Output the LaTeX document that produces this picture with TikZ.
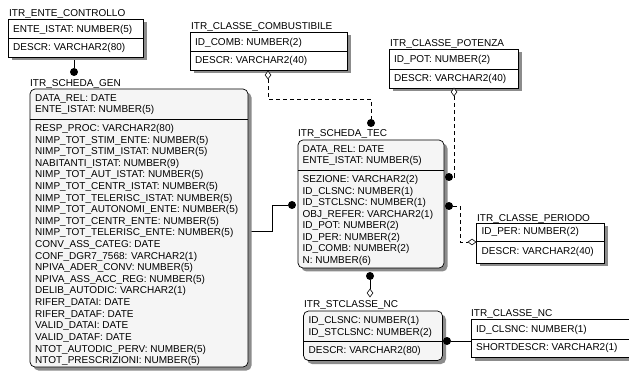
\documentclass[tikz,border=0pt]{standalone}
\usepackage{fontspec}
\setmainfont{Liberation Sans}
\usetikzlibrary{shapes.geometric, shadows, backgrounds, positioning, calc}

\begin{document}
\begin{tikzpicture}[x=1pt, y=-1pt,
  entity/.style={draw, line width=0.7pt, fill=white, inner sep=0pt, outer sep=0pt, anchor=north west,
    drop shadow={shadow xshift=3.5pt, shadow yshift=-3.5pt, fill=black!45, opacity=1}},
  depent/.style={entity, rounded corners=5pt, fill=black!4},
  attr/.style={anchor=base west, inner sep=0pt, font=\fontsize{10}{12}\selectfont},
  dot/.style={circle, fill=black, inner sep=0pt, minimum size=8pt},
  nonid/.style={diamond, draw, fill=white, line width=0.6pt, inner sep=0pt, minimum width=6pt, minimum height=8pt},
  rel/.style={line width=0.7pt},
  nonidrel/.style={rel, dash pattern=on 4pt off 3pt}]
\useasboundingbox (0,0) rectangle (629,371);

% ITR_ENTE_CONTROLLO
\node[entity, minimum width=135pt, minimum height=38pt] (ctrl) at (8,19) {};
\draw[rel] (ctrl.west |- 0,38) -- (ctrl.east |- 0,38);
\node[attr] (ctrl-t) at (9,17) {ITR\_ENTE\_CONTROLLO};
\node[attr] (ctrl-k) at (13,33) {ENTE\_ISTAT: NUMBER(5)};
\node[attr] (ctrl-a) at (13,50.5) {DESCR: VARCHAR2(80)};

% ITR_CLASSE_COMBUSTIBILE
\node[entity, minimum width=157pt, minimum height=38pt] (comb) at (190,32) {};
\draw[rel] (comb.west |- 0,51) -- (comb.east |- 0,51);
\node[attr] (comb-t) at (191,29.5) {ITR\_CLASSE\_COMBUSTIBILE};
\node[attr] (comb-k) at (195,45.5) {ID\_COMB: NUMBER(2)};
\node[attr] (comb-a) at (195,63.5) {DESCR: VARCHAR2(40)};

% ITR_CLASSE_POTENZA
\node[entity, minimum width=129pt, minimum height=39pt] (pot) at (389,49) {};
\draw[rel] (pot.west |- 0,69) -- (pot.east |- 0,69);
\node[attr] (pot-t) at (390,47) {ITR\_CLASSE\_POTENZA};
\node[attr] (pot-k) at (394,63) {ID\_POT: NUMBER(2)};
\node[attr] (pot-a) at (394,82) {DESCR: VARCHAR2(40)};

% ITR_SCHEDA_GEN
\node[depent, minimum width=218pt, minimum height=278pt] (gen) at (30,89) {};
\draw[rel] (gen.west |- 0,119) -- (gen.east |- 0,119);
\node[attr] (gen-t) at (30,86.5) {ITR\_SCHEDA\_GEN};
\node[attr] (gen-k1) at (35,101.5) {DATA\_REL: DATE};
\node[attr] (gen-k2) at (35,113) {ENTE\_ISTAT: NUMBER(5)};
\foreach \t [count=\i] in {RESP\_PROC: VARCHAR2(80), NIMP\_TOT\_STIM\_ENTE: NUMBER(5),
    NIMP\_TOT\_STIM\_ISTAT: NUMBER(5), NABITANTI\_ISTAT: NUMBER(9),
    NIMP\_TOT\_AUT\_ISTAT: NUMBER(5), NIMP\_TOT\_CENTR\_ISTAT: NUMBER(5),
    NIMP\_TOT\_TELERISC\_ISTAT: NUMBER(5), NIMP\_TOT\_AUTONOMI\_ENTE: NUMBER(5),
    NIMP\_TOT\_CENTR\_ENTE: NUMBER(5), NIMP\_TOT\_TELERISC\_ENTE: NUMBER(5),
    CONV\_ASS\_CATEG: DATE, CONF\_DGR7\_7568: VARCHAR2(1),
    NPIVA\_ADER\_CONV: NUMBER(5), NPIVA\_ASS\_ACC\_REG: NUMBER(5),
    DELIB\_AUTODIC: VARCHAR2(1), RIFER\_DATAI: DATE, RIFER\_DATAF: DATE,
    VALID\_DATAI: DATE, VALID\_DATAF: DATE,
    NTOT\_AUTODIC\_PERV: NUMBER(5), NTOT\_PRESCRIZIONI: NUMBER(5)}
  \node[attr] (gen-a\i) at (35, 120+11.6*\i) {\t};

% ITR_SCHEDA_TEC
\node[depent, minimum width=146pt, minimum height=128pt] (tec) at (298,140) {};
\draw[rel] (tec.west |- 0,170) -- (tec.east |- 0,170);
\node[attr] (tec-t) at (298,137) {ITR\_SCHEDA\_TEC};
\node[attr] (tec-k1) at (302.5,152.5) {DATA\_REL: DATE};
\node[attr] (tec-k2) at (302.5,164) {ENTE\_ISTAT: NUMBER(5)};
\foreach \t [count=\i] in {SEZIONE: VARCHAR2(2), ID\_CLSNC: NUMBER(1),
    ID\_STCLSNC: NUMBER(1), OBJ\_REFER: VARCHAR2(1), ID\_POT: NUMBER(2),
    ID\_PER: NUMBER(2), ID\_COMB: NUMBER(2), N: NUMBER(6)}
  \node[attr] (tec-a\i) at (302.5, 171.5+11.5*\i) {\t};

% ITR_CLASSE_PERIODO
\node[entity, minimum width=128pt, minimum height=40pt] (per) at (476,223) {};
\draw[rel] (per.west |- 0,241) -- (per.east |- 0,241);
\node[attr] (per-t) at (477,221.5) {ITR\_CLASSE\_PERIODO};
\node[attr] (per-k) at (481.5,235) {ID\_PER: NUMBER(2)};
\node[attr] (per-a) at (481.5,254.5) {DESCR: VARCHAR2(40)};

% ITR_STCLASSE_NC
\node[depent, minimum width=139pt, minimum height=49.5pt] (stcl) at (303.5,311) {};
\draw[rel] (stcl.west |- 0,341) -- (stcl.east |- 0,341);
\node[attr] (stcl-t) at (304,307.5) {ITR\_STCLASSE\_NC};
\node[attr] (stcl-k1) at (308.5,323.5) {ID\_CLSNC: NUMBER(1)};
\node[attr] (stcl-k2) at (308.5,335) {ID\_STCLSNC: NUMBER(2)};
\node[attr] (stcl-a) at (308.5,353.5) {DESCR: VARCHAR2(80)};

% ITR_CLASSE_NC (cut by the right edge)
\node[entity, minimum width=175pt, minimum height=38.5pt] (clnc) at (471,319) {};
\draw[rel] (clnc.west |- 0,339) -- (clnc.east |- 0,339);
\node[attr] (clnc-t) at (471,316.5) {ITR\_CLASSE\_NC};
\node[attr] (clnc-k) at (476,332) {ID\_CLSNC: NUMBER(1)};
\node[attr] (clnc-a) at (476,350.5) {SHORTDESCR: VARCHAR2(1)};

% relationship ends
\node[dot] (d1) at (74,72) {};
\node[nonid] (m1) at (268,75) {};
\node[dot] (d2) at (371,123) {};
\node[nonid] (m2) at (454,92) {};
\node[dot] (d3) at (449,177) {};
\node[dot] (d4) at (449,206) {};
\node[nonid, minimum width=8pt, minimum height=6pt] (m3) at (472,242) {};
\node[dot] (d5) at (292,205) {};
\coordinate (j1) at (272,231);
\node[dot] (d6) at (370,276) {};
\node[nonid] (m4) at (370,293) {};
\node[dot] (d7) at (447,341) {};

% relationships, under the boxes
\begin{pgfonlayer}{background}
\fill[white] (0,0) rectangle (629,371);
\draw[rel] (d1) -- (d1 |- ctrl.south);
\draw[nonidrel] (m1.south) -- ++(0,20) -| (d2);
\draw[nonidrel] (m2.south) |- (d3);
\draw[nonidrel] (d4) -- ++(11,0) |- (m3.west);
\draw[rel] (d5) -| (j1) -- (j1 -| gen.east);
\draw[rel] (d6) -- (m4);
\draw[rel] (d7) -- (d7 -| clnc.west);
\end{pgfonlayer}
\end{tikzpicture}
\end{document}
